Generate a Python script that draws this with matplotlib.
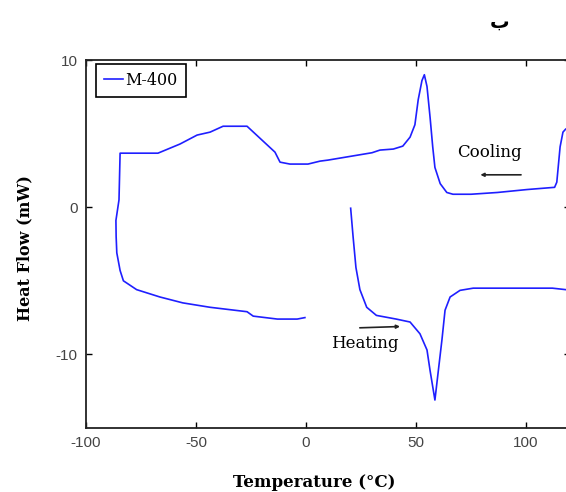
import matplotlib.pyplot as plt
import numpy as np

plt.rcParams['axes.unicode_minus'] = False

# cooling run (read from right to left, continues into the low-temperature branch)
cool_t = [118, 116.8, 115.5, 114, 113, 100.5, 87, 75, 66.8, 64, 61, 58.6, 57.6,
          56.4, 55, 53.8, 52.7, 51, 49.5, 47.3, 44, 39.7, 33.6, 30, 20, 10, 6.4,
          0.9, -7.3, -11.8, -14.1, -26.8, -37.7, -43.6, -49.5, -57.3, -67.3,
          -83.6, -84.5, -85, -86.4, -86.3, -86, -84.5, -83, -77, -66.4, -56,
          -43.6, -26.8, -24, -13, -4, -0.5]
cool_hf = [5.3, 5.1, 4.1, 1.7, 1.35, 1.2, 1.0, 0.88, 0.88, 1.0, 1.6, 2.7, 4.1,
           6.1, 8.2, 9.0, 8.6, 7.3, 5.6, 4.76, 4.15, 3.95, 3.88, 3.7, 3.45, 3.2,
           3.13, 2.93, 2.93, 3.06, 3.74, 5.5, 5.5, 5.1, 4.9, 4.29, 3.67,
           3.67, 3.67, 0.5, -0.9, -2.0, -3.1, -4.3, -5.0, -5.6, -6.1, -6.5,
           -6.8, -7.1, -7.4, -7.6, -7.6, -7.5]

# heating run
heat_t = [20.3, 21.4, 22.7, 24.5, 27.6, 32, 41, 47.3, 51.8, 55, 56.4, 58.6,
          60, 61.8, 63.2, 65.5, 70, 76, 112, 118]
heat_hf = [-0.07, -2.0, -4.1, -5.6, -6.8, -7.35, -7.6, -7.8, -8.6, -9.7, -11.1,
           -13.1, -11.3, -9.0, -7.0, -6.1, -5.65, -5.5, -5.5, -5.6]

xticks = [-100, -50, 0, 50, 100]
yticks = [-10, 0, 10]

fig = plt.figure(figsize=(5.66, 4.92), dpi=100)
ax = fig.add_axes([86 / 566, 64 / 492, 484 / 566, 368 / 492])

blue = '#1f1fff'
ax.plot(cool_t, cool_hf, color=blue, lw=1.2, label='M-400')
ax.plot(heat_t, heat_hf, color=blue, lw=1.2)

ax.set_xlim(-100, 120)
ax.set_ylim(-15, 10)
ax.set_xticks(xticks)
ax.set_yticks(yticks)
ax.tick_params(direction='in', top=True, right=True, length=4, width=1,
               labelsize=11, labelcolor='#444444', pad=6)
for lab in ax.get_xticklabels() + ax.get_yticklabels():
    lab.set_fontfamily('Liberation Sans')
for s in ax.spines.values():
    s.set_linewidth(1.3)
    s.set_color('#222222')

ax.set_xlabel('Temperature (°C)', fontsize=12, fontweight='bold',
              family='DejaVu Serif', va='center')
ax.xaxis.set_label_coords(0.471, -0.149)
ax.set_ylabel('Heat Flow (mW)', fontsize=11.5, fontweight='bold',
              family='DejaVu Serif', va='center')
ax.yaxis.set_label_coords(-0.126, 0.489)

leg = ax.legend(loc='upper left', prop={'family': 'DejaVu Serif', 'size': 11.5},
                fancybox=False, edgecolor='black', framealpha=1,
                handlelength=1.2, handletextpad=0.15, borderpad=0.5,
                borderaxespad=0, bbox_to_anchor=(10 / 484, 1 - 4 / 368))
leg.get_frame().set_linewidth(1.2)

# annotations
ax.annotate('', xy=(78, 2.2), xytext=(99, 2.2),
            arrowprops=dict(arrowstyle='-|>', color='#222222', lw=1.2,
                            mutation_scale=5))
ax.text(83.6, 3.74, 'Cooling', ha='center', va='center', fontsize=12,
        family='DejaVu Serif')
ax.annotate('', xy=(44, -8.1), xytext=(23.2, -8.2),
            arrowprops=dict(arrowstyle='-|>', color='#222222', lw=1.2,
                            mutation_scale=5))
ax.text(26.8, -9.25, 'Heating', ha='center', va='center', fontsize=12,
        family='DejaVu Serif')

fig.text(500 / 566, 1 - 28 / 492, 'ب', ha='center', va='baseline', fontsize=14,
         fontweight='bold', family='DejaVu Sans')

fig.savefig('out.png', dpi=100)
